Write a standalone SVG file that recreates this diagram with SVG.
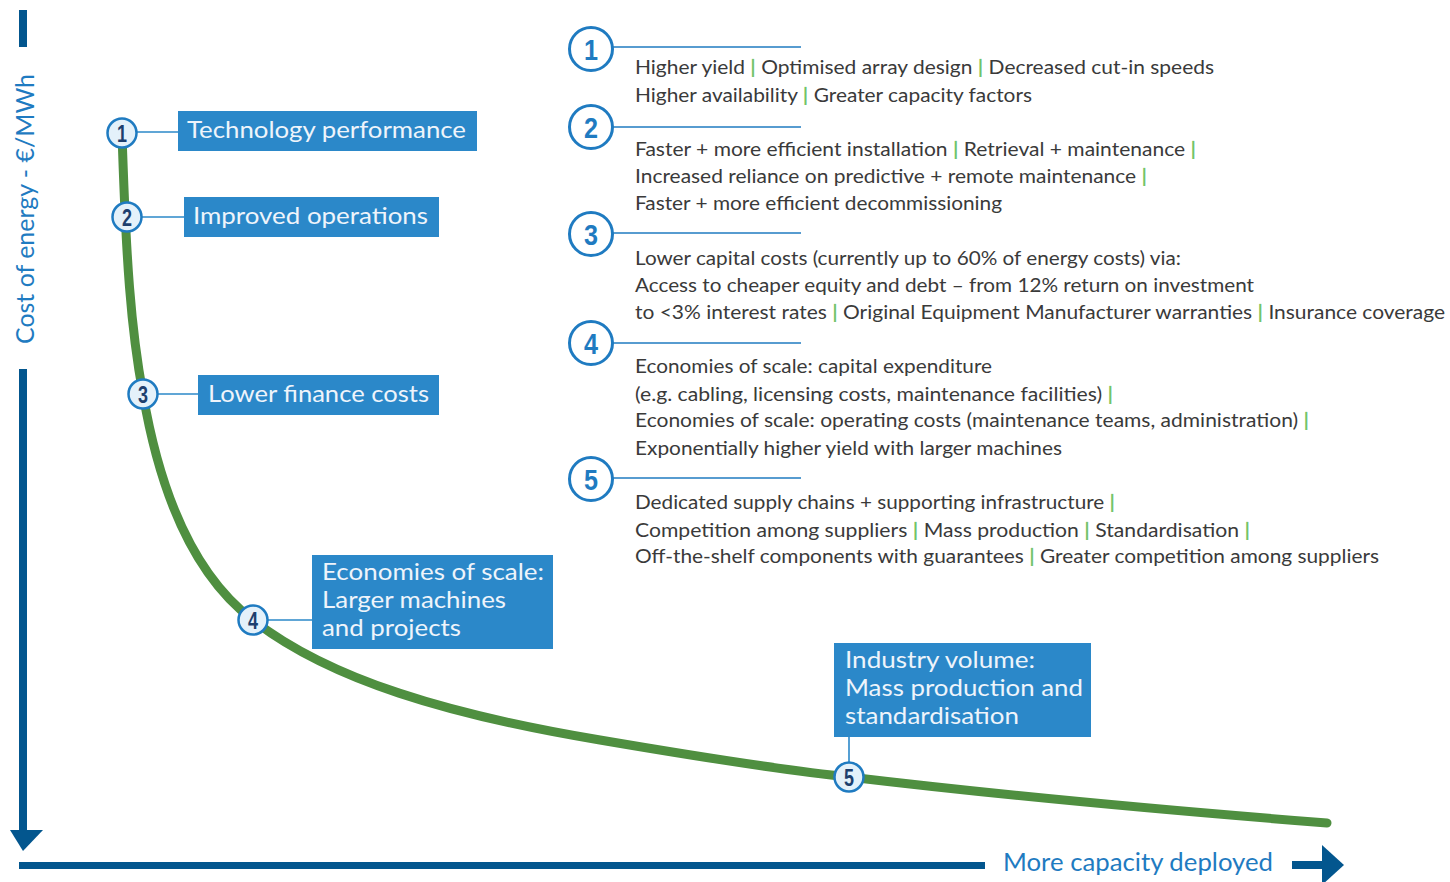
<svg xmlns="http://www.w3.org/2000/svg" width="1450" height="882" viewBox="0 0 1450 882">
<style>
.axis{fill:#03568e}
.axlbl{font-family:Lato,"Open Sans","Liberation Sans",sans-serif;font-size:25px;fill:#1f7bc1}
.box{fill:#2b88c9}
.btxt{font-family:Lato,"Open Sans","Liberation Sans",sans-serif;font-size:24px;fill:#eef4fb}
.conn{stroke:#2b88c9;stroke-width:1.6;fill:none}
.curve{stroke:#4f8f40;stroke-width:9;fill:none;stroke-linecap:round}
.sc{fill:#e4f1fa;stroke:#1f7bc1;stroke-width:2.5}
.snum{font-family:"Liberation Sans",Arial,sans-serif;font-weight:bold;font-size:24px;fill:#1d3f6e;text-anchor:middle}
.bc{fill:#fff;stroke:#1f7bc1;stroke-width:3}
.bnum{font-family:"Liberation Sans",Arial,sans-serif;font-weight:bold;font-size:30px;fill:#1f7bc1;text-anchor:middle}
.rl{stroke:#1f7bc1;stroke-width:1.6}
.rt{font-family:Lato,"Open Sans","Liberation Sans",sans-serif;font-size:18.5px;fill:#3a3a3a}
.p{fill:#72c46a;font-weight:bold}
</style>

<g id="axes">
<rect class="axis" x="19" y="10" width="8" height="37"/>
<rect class="axis" x="19" y="369" width="8" height="462"/>
<polygon class="axis" points="10,830 43,830 23,851"/>
<rect class="axis" x="19" y="862" width="966" height="7"/>
<rect class="axis" x="1292" y="861" width="32" height="8"/>
<polygon class="axis" points="1322,845 1344,865 1322,885"/>
<text class="axlbl" transform="translate(34,344) rotate(-90)" textLength="270" lengthAdjust="spacingAndGlyphs">Cost of energy - €/MWh</text>
<text class="axlbl" x="1003" y="871" textLength="270" lengthAdjust="spacingAndGlyphs">More capacity deployed</text>
</g>

<g id="connectors">
<path class="curve" d="M122,133 C126,260 131,330 143,394 C162,505 200,580 253,620 C330,680 450,715 600,740 C700,757 780,770 849,777 C1000,795 1200,813 1327,823"/>
<line class="conn" x1="137" y1="132" x2="178" y2="132"/>
<line class="conn" x1="142" y1="217" x2="184" y2="217"/>
<line class="conn" x1="158" y1="394" x2="198" y2="394"/>
<line class="conn" x1="268" y1="620" x2="312" y2="620"/>
<line class="conn" x1="849" y1="737" x2="849" y2="762"/>
</g>

<g id="node1">
<rect class="box" x="178" y="111" width="299" height="40"/>
<text class="btxt" x="187" y="138" textLength="279" lengthAdjust="spacingAndGlyphs">Technology performance</text>
<circle class="sc" cx="122" cy="133" r="14.5"/>
<text class="snum" x="122" y="141.5" textLength="10" lengthAdjust="spacingAndGlyphs">1</text>
</g>
<g id="node2">
<rect class="box" x="184" y="197" width="255" height="40"/>
<text class="btxt" x="193" y="224" textLength="235" lengthAdjust="spacingAndGlyphs">Improved operations</text>
<circle class="sc" cx="127" cy="217" r="14.5"/>
<text class="snum" x="127" y="225.5" textLength="10" lengthAdjust="spacingAndGlyphs">2</text>
</g>
<g id="node3">
<rect class="box" x="198" y="375" width="241" height="40"/>
<text class="btxt" x="208" y="402" textLength="221" lengthAdjust="spacingAndGlyphs">Lower finance costs</text>
<circle class="sc" cx="143" cy="394" r="14.5"/>
<text class="snum" x="143" y="402.5" textLength="10" lengthAdjust="spacingAndGlyphs">3</text>
</g>
<g id="node4">
<rect class="box" x="312" y="555" width="241" height="94"/>
<text class="btxt" x="322" y="580" textLength="222" lengthAdjust="spacingAndGlyphs">Economies of scale:</text>
<text class="btxt" x="322" y="608" textLength="184" lengthAdjust="spacingAndGlyphs">Larger machines</text>
<text class="btxt" x="322" y="636" textLength="139" lengthAdjust="spacingAndGlyphs">and projects</text>
<circle class="sc" cx="253" cy="620" r="14.5"/>
<text class="snum" x="253" y="628.5" textLength="10" lengthAdjust="spacingAndGlyphs">4</text>
</g>
<g id="node5">
<rect class="box" x="834" y="643" width="257" height="94"/>
<text class="btxt" x="845" y="668" textLength="190" lengthAdjust="spacingAndGlyphs">Industry volume:</text>
<text class="btxt" x="845" y="696" textLength="238" lengthAdjust="spacingAndGlyphs">Mass production and</text>
<text class="btxt" x="845" y="724" textLength="174" lengthAdjust="spacingAndGlyphs">standardisation</text>
<circle class="sc" cx="849" cy="777" r="14.5"/>
<text class="snum" x="849" y="785.5" textLength="10" lengthAdjust="spacingAndGlyphs">5</text>
</g>

<g id="detail1">
<circle class="bc" cx="591" cy="49" r="21.5"/>
<text class="bnum" x="591" y="60" textLength="14" lengthAdjust="spacingAndGlyphs">1</text>
<line class="rl" x1="613" y1="47" x2="801" y2="47"/>
<text class="rt" x="635" y="74" textLength="579" lengthAdjust="spacingAndGlyphs">Higher yield <tspan class="p">|</tspan> Optimised array design <tspan class="p">|</tspan> Decreased cut-in speeds</text>
<text class="rt" x="635" y="102" textLength="397" lengthAdjust="spacingAndGlyphs">Higher availability <tspan class="p">|</tspan> Greater capacity factors</text>
</g>
<g id="detail2">
<circle class="bc" cx="591" cy="127" r="21.5"/>
<text class="bnum" x="591" y="138" textLength="14" lengthAdjust="spacingAndGlyphs">2</text>
<line class="rl" x1="613" y1="127" x2="801" y2="127"/>
<text class="rt" x="635" y="156" textLength="561" lengthAdjust="spacingAndGlyphs">Faster + more efficient installation <tspan class="p">|</tspan> Retrieval + maintenance <tspan class="p">|</tspan></text>
<text class="rt" x="635" y="183" textLength="512" lengthAdjust="spacingAndGlyphs">Increased reliance on predictive + remote maintenance <tspan class="p">|</tspan></text>
<text class="rt" x="635" y="210" textLength="367" lengthAdjust="spacingAndGlyphs">Faster + more efficient decommissioning</text>
</g>
<g id="detail3">
<circle class="bc" cx="591" cy="234" r="21.5"/>
<text class="bnum" x="591" y="245" textLength="14" lengthAdjust="spacingAndGlyphs">3</text>
<line class="rl" x1="613" y1="233" x2="801" y2="233"/>
<text class="rt" x="635" y="265" textLength="546" lengthAdjust="spacingAndGlyphs">Lower capital costs (currently up to 60% of energy costs) via:</text>
<text class="rt" x="635" y="292" textLength="619" lengthAdjust="spacingAndGlyphs">Access to cheaper equity and debt – from 12% return on investment</text>
<text class="rt" x="635" y="319" textLength="810" lengthAdjust="spacingAndGlyphs">to &lt;3% interest rates <tspan class="p">|</tspan> Original Equipment Manufacturer warranties <tspan class="p">|</tspan> Insurance coverage</text>
</g>
<g id="detail4">
<circle class="bc" cx="591" cy="343" r="21.5"/>
<text class="bnum" x="591" y="354" textLength="14" lengthAdjust="spacingAndGlyphs">4</text>
<line class="rl" x1="613" y1="343" x2="801" y2="343"/>
<text class="rt" x="635" y="373" textLength="357" lengthAdjust="spacingAndGlyphs">Economies of scale: capital expenditure</text>
<text class="rt" x="635" y="401" textLength="478" lengthAdjust="spacingAndGlyphs">(e.g. cabling, licensing costs, maintenance facilities) <tspan class="p">|</tspan></text>
<text class="rt" x="635" y="427" textLength="674" lengthAdjust="spacingAndGlyphs">Economies of scale: operating costs (maintenance teams, administration) <tspan class="p">|</tspan></text>
<text class="rt" x="635" y="455" textLength="427" lengthAdjust="spacingAndGlyphs">Exponentially higher yield with larger machines</text>
</g>
<g id="detail5">
<circle class="bc" cx="591" cy="479" r="21.5"/>
<text class="bnum" x="591" y="490" textLength="14" lengthAdjust="spacingAndGlyphs">5</text>
<line class="rl" x1="613" y1="478" x2="801" y2="478"/>
<text class="rt" x="635" y="509" textLength="480" lengthAdjust="spacingAndGlyphs">Dedicated supply chains + supporting infrastructure <tspan class="p">|</tspan></text>
<text class="rt" x="635" y="537" textLength="615" lengthAdjust="spacingAndGlyphs">Competition among suppliers <tspan class="p">|</tspan> Mass production <tspan class="p">|</tspan> Standardisation <tspan class="p">|</tspan></text>
<text class="rt" x="635" y="563" textLength="744" lengthAdjust="spacingAndGlyphs">Off-the-shelf components with guarantees <tspan class="p">|</tspan> Greater competition among suppliers</text>
</g>
</svg>
